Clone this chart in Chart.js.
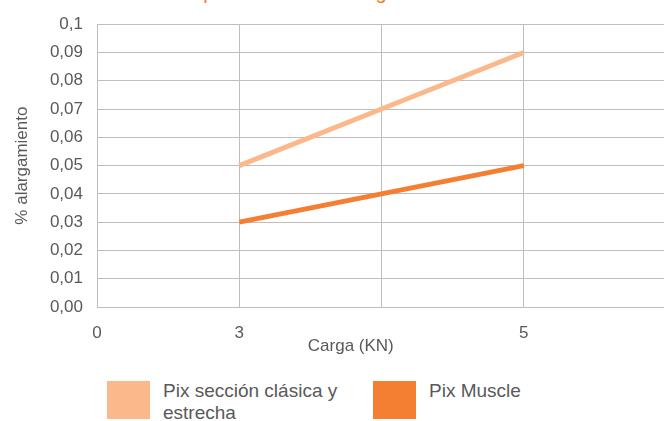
<!DOCTYPE html>
<html>
<head>
<meta charset="utf-8">
<script src="https://cdn.jsdelivr.net/npm/chart.js@4"></script>
<style>
  html, body { margin: 0; padding: 0; width: 664px; height: 421px; overflow: hidden; background: #fff; }
  body { position: relative; font-family: "Liberation Sans", Arial, sans-serif; }
  #wrap { position: absolute; left: 0; top: 0; width: 682px; height: 360px; }
  #title { position: absolute; left: 161px; top: -18px; font-size: 20px; line-height: 20px; color: #F47B30; white-space: nowrap; }
  .box { position: absolute; top: 381px; width: 43px; height: 38px; }
  .lbl { position: absolute; top: 380px; font-size: 19px; line-height: 22px; color: #595959; }
</style>
</head>
<body>
<div id="title">Comportamiento de alargamiento</div>
<div id="wrap"><canvas id="myChart"></canvas></div>
<div id="legend"></div>
<script>
const categories = ['0', '3', '', '5', ''];
const pixClasica = [null, 0.05, 0.07, 0.09, null];
const pixMuscle = [null, 0.03, 0.04, 0.05, null];
const seriesNames = ['Pix sección clásica y estrecha', 'Pix Muscle'];
const seriesColors = ['#FBB98B', '#F47F33'];

const ctx = document.getElementById('myChart').getContext('2d');
const data = {
  labels: categories,
  datasets: [
    {
      label: seriesNames[0],
      data: pixClasica,
      borderColor: seriesColors[0],
      backgroundColor: seriesColors[0],
      borderWidth: 5,
      pointRadius: 0,
      fill: false,
    },
    {
      label: seriesNames[1],
      data: pixMuscle,
      borderColor: seriesColors[1],
      backgroundColor: seriesColors[1],
      borderWidth: 5,
      pointRadius: 0,
      fill: false,
    }
  ]
};

const tickFont = { family: 'Liberation Sans', size: 17 };

const myChart = new Chart(ctx, {
  type: 'line',
  data: data,
  options: {
    responsive: true,
    maintainAspectRatio: false,
    animation: false,
    layout: { padding: { top: 22, right: 0, bottom: 3, left: 0 } },
    plugins: {
      legend: { display: false },
      tooltip: { enabled: false }
    },
    scales: {
      x: {
        offset: false,
        grid: { color: '#BDBDBD', lineWidth: 1, drawTicks: false },
        border: { color: '#BDBDBD', width: 1 },
        ticks: { color: '#595959', font: tickFont, padding: 16, maxRotation: 0, autoSkip: false },
        // trailing spaces pull the centred title left, as in the original
        title: { display: true, text: 'Carga (KN)' + '\u00A0'.repeat(13), color: '#595959', font: tickFont, padding: 0 },
        afterFit: (scale) => { scale.height = 50; }
      },
      y: {
        min: 0,
        max: 0.1,
        grid: { color: '#BDBDBD', lineWidth: 1, drawTicks: false },
        border: { color: '#BDBDBD', width: 1 },
        ticks: {
          stepSize: 0.01,
          color: '#595959',
          font: tickFont,
          padding: 14,
          callback: (v) => {
            const n = Math.round(v * 100);
            return n === 10 ? '0,1' : (n / 100).toFixed(2).replace('.', ',');
          }
        },
        title: { display: true, text: '% alargamiento', color: '#595959', font: tickFont, padding: { top: 12, bottom: 0 } },
        afterFit: (scale) => { scale.width = 97; }
      }
    }
  }
});

// legend built from the series
const legend = document.getElementById('legend');
const boxLefts = [107, 373];
const textLefts = [163, 429];
const textWidths = [190, 200];
seriesNames.forEach((name, i) => {
  const b = document.createElement('div');
  b.className = 'box';
  b.style.left = boxLefts[i] + 'px';
  b.style.background = seriesColors[i];
  legend.appendChild(b);
  const t = document.createElement('div');
  t.className = 'lbl';
  t.style.left = textLefts[i] + 'px';
  t.style.width = textWidths[i] + 'px';
  t.textContent = name;
  legend.appendChild(t);
});
</script>
</body>
</html>
